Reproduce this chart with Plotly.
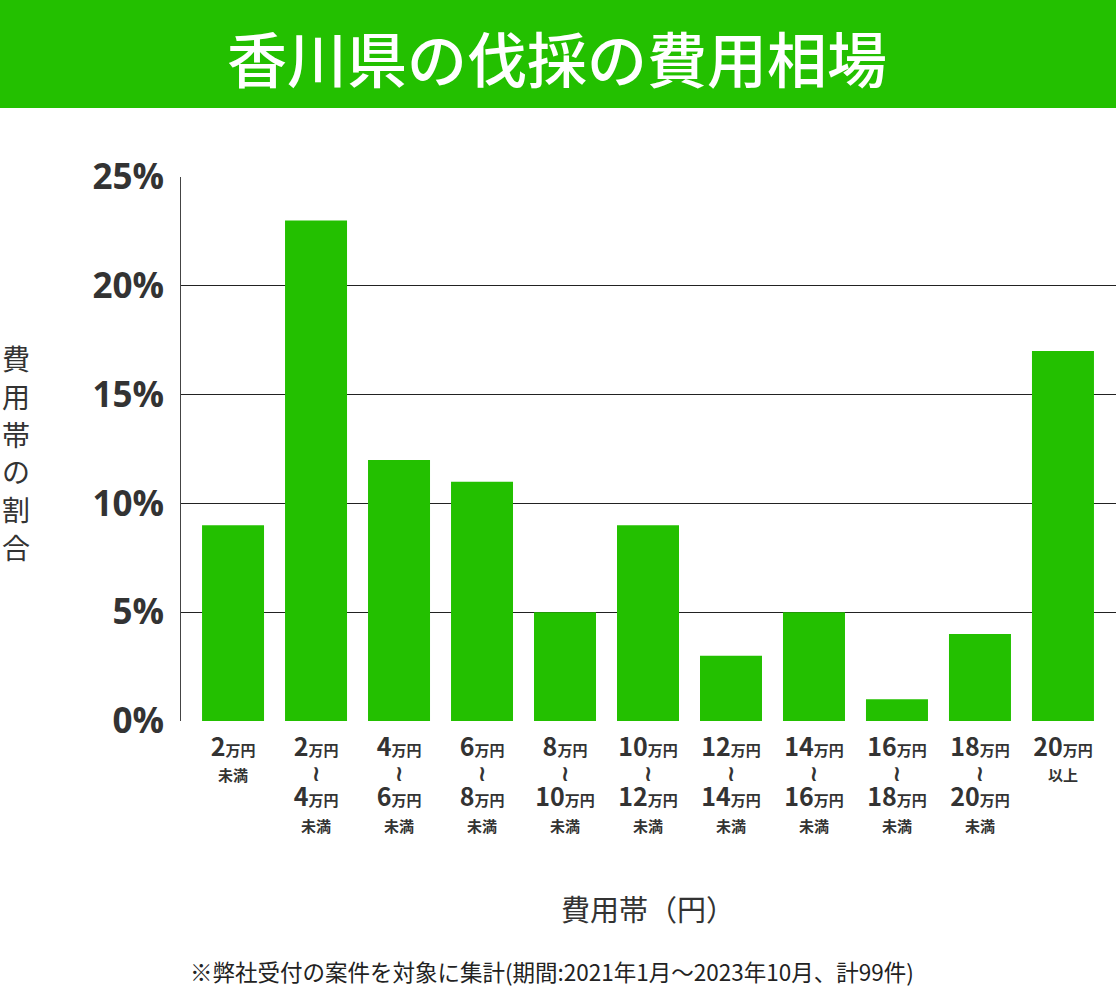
import plotly.graph_objects as go

categories = ["2万円未満", "2万円〜4万円未満", "4万円〜6万円未満", "6万円〜8万円未満", "8万円〜10万円未満",
              "10万円〜12万円未満", "12万円〜14万円未満", "14万円〜16万円未満", "16万円〜18万円未満",
              "18万円〜20万円未満", "20万円以上"]
values = [9, 23, 12, 11, 5, 9, 3, 5, 1, 4, 17]
low = ["2", "2", "4", "6", "8", "10", "12", "14", "16", "18", "20"]
high = [None, "4", "6", "8", "10", "12", "14", "16", "18", "20", None]
suffix_single = ["未満", None, None, None, None, None, None, None, None, None, "以上"]
y_ticks = [0, 5, 10, 15, 20, 25]
y_ticktext = ["0%", "5%", "10%", "15%", "20%", "25%"]

title = "香川県の伐採の費用相場"
x_title = "費用帯（円）"
y_title = "費用帯の割合"
footnote = "※弊社受付の案件を対象に集計(期間:2021年1月〜2023年10月、計99件)"

GREEN = "#23C000"
DARK = "#333333"


def num(n):
    return f"<span style='font-size:25px'>{n}</span><span style='font-size:15px'>万円</span>"


WAVE = "<span style='font-size:22px;font-family:DejaVu Sans'>≀</span>"

ticktext = []
for i in range(len(categories)):
    if high[i] is None:
        ticktext.append(num(low[i]) + "<br><span style='font-size:15px'>" + suffix_single[i] + "</span>")
    else:
        ticktext.append(num(low[i]) + "<br>" + WAVE + "<br>" + num(high[i])
                        + "<br><span style='font-size:15px'>未満</span>")

xs = list(range(len(categories)))

fig = go.Figure()
fig.add_trace(go.Bar(x=xs, y=values, marker=dict(color=GREEN, line=dict(width=0)), width=0.747,
                     hovertext=categories))

plot_h = 989 - 177 - 268


def py(px):
    return (989 - 268 - px) / plot_h


def px_x(px):
    return (px - 181) / (1116 - 181)


fig.update_layout(
    width=1116, height=989,
    margin=dict(l=181, r=0, t=177, b=268),
    paper_bgcolor="white", plot_bgcolor="white",
    font=dict(family="Noto Sans CJK JP", color=DARK),
    showlegend=False,
    xaxis=dict(range=[-0.627, 10.639], tickmode="array", tickvals=xs, ticktext=ticktext,
               tickfont=dict(size=19.5, family="Noto Sans CJK JP", color=DARK, weight="bold"),
               showgrid=False, zeroline=False, showline=False, ticks="", ticklabelstandoff=14),
    yaxis=dict(range=[0, 25], tickmode="array", tickvals=y_ticks, ticktext=y_ticktext,
               tickfont=dict(size=35, family="Open Sans", color=DARK, weight="bold"),
               showgrid=True, gridcolor="#222222", gridwidth=1, zeroline=False,
               showline=True, linecolor="#444444", linewidth=1, ticks="", ticklabelstandoff=9),
    shapes=[dict(type="rect", xref="paper", yref="paper", x0=px_x(0), x1=px_x(1116),
                 y0=py(108), y1=py(0), fillcolor=GREEN, line=dict(width=0))],
)

annotations = [
    dict(text=title, x=px_x(557), y=py(56), xref="paper", yref="paper", showarrow=False,
         xanchor="center", yanchor="middle",
         font=dict(size=60, color="white", family="Noto Sans CJK JP", weight=500)),
    dict(text=x_title, x=px_x(648), y=py(908), xref="paper", yref="paper", showarrow=False,
         xanchor="center", yanchor="middle", font=dict(size=29, color=DARK, family="Noto Sans CJK JP")),
    dict(text=footnote, x=px_x(552), y=py(971), xref="paper", yref="paper", showarrow=False,
         xanchor="center", yanchor="middle", font=dict(size=22.5, color="#222222", family="Noto Sans CJK JP")),
]
for i, ch in enumerate(y_title):
    annotations.append(dict(text=ch, x=px_x(16), y=py(358 + i * 37.8), xref="paper", yref="paper",
                            showarrow=False, xanchor="center", yanchor="middle",
                            font=dict(size=28, color=DARK, family="Noto Sans CJK JP")))
fig.update_layout(annotations=annotations)

fig.write_html("out.html")
